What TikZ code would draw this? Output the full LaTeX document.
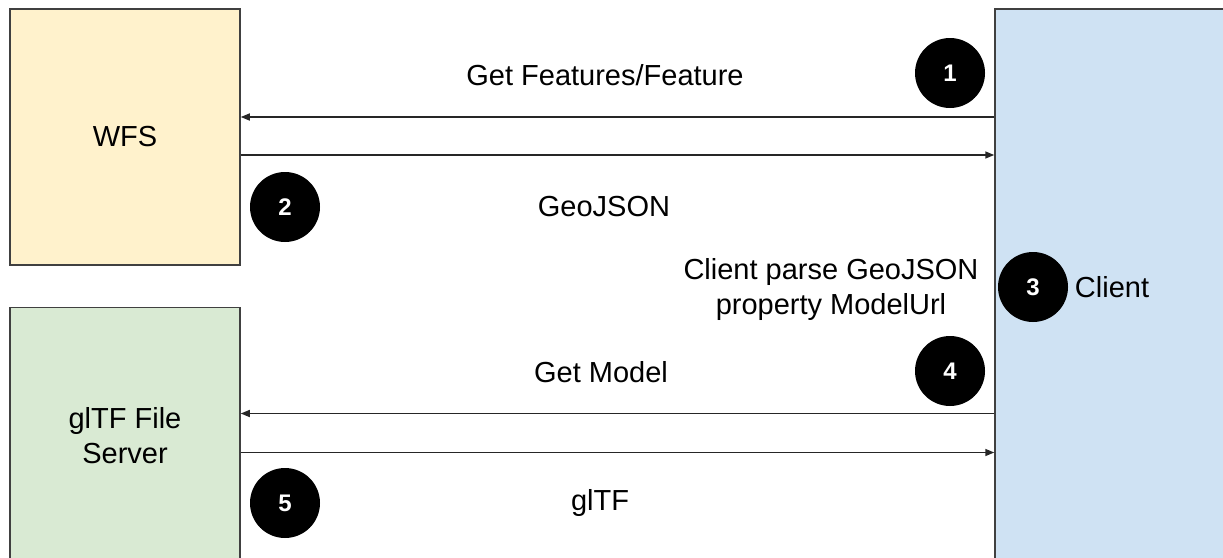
\documentclass[tikz,border=0pt]{standalone}
\usepackage{fontspec}
\setmainfont{Liberation Sans}
\usetikzlibrary{shapes.geometric, arrows.meta, positioning}
\definecolor{wfsfill}{HTML}{FFF2CC}
\definecolor{gltffill}{HTML}{D9EAD3}
\definecolor{clientfill}{HTML}{CFE2F3}
\tikzstyle{server} = [rectangle, draw=black!75, line width=1.5pt, minimum width=230pt, minimum height=256pt, align=center, font=\fontsize{29}{35}\selectfont]
\tikzstyle{badge} = [circle, fill=black, text=white, minimum size=70pt, inner sep=0pt, font=\fontsize{24}{24}\selectfont\bfseries]
\tikzstyle{msg} = [align=center, font=\fontsize{29}{35}\selectfont]
\tikzstyle{arrow} = [line width=1.5pt, draw=black!85, -{Triangle[length=9pt,width=7pt]}]

\begin{document}
\begin{tikzpicture}[x=1pt, y=-1pt, node distance=41pt]
    \clip (0,0) rectangle (1223,557);
    \node (wfs) [server, fill=wfsfill] at (125,137) {WFS};
    \node (gltf) [server, fill=gltffill, below=of wfs] {glTF File\\Server};
    \node (client) [server, fill=clientfill, minimum width=234pt, minimum height=556pt] at (1112,287) {Client};
    \draw [arrow] ([yshift=20pt]wfs.east -| client.west) -- ([yshift=20pt]wfs.east);
    \draw [arrow] ([yshift=-18pt]wfs.east) -- ([yshift=-18pt]wfs.east -| client.west);
    \draw [arrow] ([yshift=22pt]gltf.east -| client.west) -- ([yshift=22pt]gltf.east);
    \draw [arrow] ([yshift=-17pt]gltf.east) -- ([yshift=-17pt]gltf.east -| client.west);
    \node (getfeat) [msg] at (605,75) {Get Features/Feature};
    \node (geojson) [msg] at (604,207) {GeoJSON};
    \node (parse) [msg] at (831,289) {Client parse GeoJSON\\property ModelUrl};
    \node (getmodel) [msg] at (601,372) {Get Model};
    \node (gltfmsg) [msg] at (600,503) {glTF};
    \node (one) [badge] at (950,73) {1};
    \node (two) [badge] at (285,207) {2};
    \node (three) [badge] at (1033,287) {3};
    \node (four) [badge] at (950,371) {4};
    \node (five) [badge] at (285,503) {5};
\end{tikzpicture}
\end{document}
